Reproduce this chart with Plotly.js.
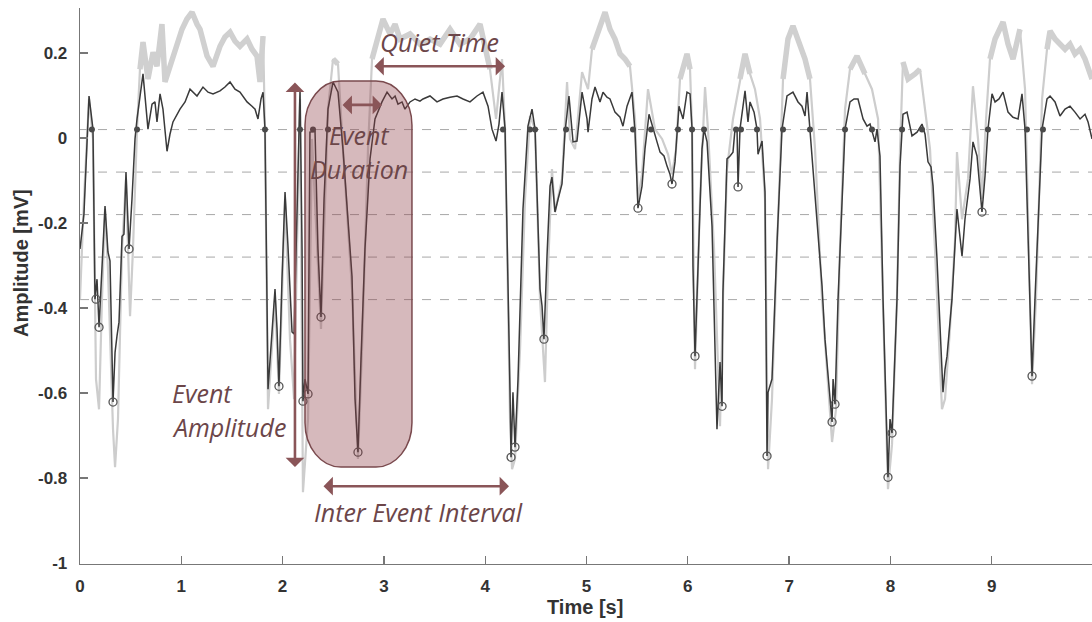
<!DOCTYPE html>
<html>
<head>
<meta charset="utf-8">
<script src="https://cdn.plot.ly/plotly-3.0.1.min.js"></script>
<style>html,body{margin:0;padding:0;background:#fff}#chart{width:1092px;height:622px}</style>
</head>
<body>
<div id="chart"></div>
<script>
// Filtered (dark) signal
const darkTime = [0,0.039,0.089,0.128,0.148,0.168,0.188,0.217,0.247,0.276,0.296,0.326,0.346,0.365,0.385,0.415,0.434,0.454,0.464,0.484,0.513,0.543,0.563,0.592,0.622,0.671,0.711,0.740,0.760,0.790,0.819,0.859,0.888,0.918,0.958,0.987,1.037,1.086,1.155,1.214,1.264,1.313,1.382,1.431,1.481,1.530,1.579,1.629,1.649,1.698,1.728,1.757,1.787,1.807,1.826,1.856,1.895,1.925,1.945,1.964,1.994,2.024,2.053,2.093,2.113,2.132,2.172,2.192,2.201,2.221,2.251,2.270,2.320,2.349,2.379,2.409,2.448,2.498,2.547,2.596,2.646,2.685,2.715,2.744,2.774,2.813,2.863,2.912,2.981,3.031,3.080,3.110,3.139,3.179,3.208,3.258,3.307,3.356,3.386,3.455,3.524,3.583,3.653,3.722,3.781,3.850,3.919,3.978,4.028,4.067,4.107,4.136,4.166,4.196,4.245,4.255,4.274,4.294,4.324,4.373,4.422,4.462,4.492,4.541,4.561,4.580,4.610,4.640,4.659,4.689,4.719,4.758,4.788,4.827,4.867,4.906,4.956,5.005,5.015,5.054,5.084,5.133,5.163,5.202,5.232,5.281,5.331,5.360,5.400,5.449,5.479,5.508,5.548,5.577,5.617,5.656,5.696,5.726,5.765,5.795,5.824,5.844,5.874,5.913,5.953,5.992,6.022,6.042,6.051,6.071,6.101,6.140,6.160,6.190,6.239,6.288,6.318,6.338,6.347,6.387,6.417,6.446,6.466,6.486,6.496,6.515,6.565,6.594,6.614,6.654,6.683,6.693,6.733,6.762,6.782,6.792,6.831,6.881,6.930,6.979,7.038,7.088,7.127,7.157,7.177,7.206,7.275,7.325,7.354,7.404,7.424,7.434,7.453,7.483,7.522,7.552,7.601,7.641,7.680,7.730,7.769,7.799,7.848,7.868,7.897,7.927,7.976,7.996,8.016,8.065,8.095,8.124,8.164,8.194,8.213,8.263,8.312,8.342,8.371,8.401,8.421,8.460,8.490,8.519,8.539,8.559,8.608,8.657,8.707,8.736,8.786,8.815,8.855,8.904,8.934,8.963,9.003,9.033,9.072,9.112,9.161,9.210,9.260,9.299,9.329,9.378,9.398,9.427,9.447,9.497,9.546,9.576,9.625,9.674,9.724,9.773,9.822,9.872,9.921,9.951,9.990];
const darkAmp = [-0.261,-0.179,0.099,0.021,-0.379,-0.332,-0.445,-0.301,-0.160,-0.268,-0.289,-0.621,-0.504,-0.466,-0.433,-0.231,-0.226,-0.080,-0.144,-0.261,-0.144,-0.002,0.045,0.104,0.151,0.021,0.080,0.085,0.038,0.104,0.068,-0.031,0.009,0.038,0.056,0.068,0.085,0.115,0.099,0.120,0.108,0.104,0.111,0.120,0.132,0.115,0.108,0.092,0.085,0.075,0.068,0.045,0.092,0.108,0.021,-0.591,-0.449,-0.355,-0.449,-0.584,-0.332,-0.127,-0.254,-0.456,-0.461,-0.261,0.115,-0.261,-0.619,-0.567,-0.602,0.014,0.016,-0.261,-0.421,-0.144,0.068,0.132,0.108,-0.026,-0.191,-0.325,-0.614,-0.739,-0.520,-0.261,-0.049,0.045,0.085,0.108,0.092,0.099,0.080,0.085,0.068,0.085,0.092,0.087,0.092,0.099,0.085,0.092,0.096,0.099,0.092,0.085,0.099,0.108,0.075,0.021,-0.007,0.033,0.108,0.021,-0.598,-0.751,-0.598,-0.727,-0.567,-0.167,0.028,0.068,0.021,-0.355,-0.395,-0.473,-0.278,-0.113,-0.092,-0.174,-0.144,-0.108,0.014,0.099,-0.009,-0.007,0.108,0.045,0.014,0.092,0.120,0.085,0.108,0.096,0.092,0.061,0.049,0.028,0.075,0.108,0.014,-0.165,-0.113,-0.026,0.056,0.021,-0.009,-0.033,-0.042,-0.066,-0.085,-0.108,-0.056,0.075,0.045,0.108,0.104,0.021,-0.301,-0.513,-0.285,-0.026,0.021,-0.009,-0.207,-0.685,-0.527,-0.631,-0.362,-0.049,-0.042,-0.033,0.021,0.021,-0.115,0.021,0.111,0.038,0.085,0.061,0.021,-0.038,-0.007,-0.127,-0.748,-0.598,-0.567,-0.245,0.021,0.099,0.108,0.085,0.075,0.052,0.108,0.021,-0.195,-0.348,-0.473,-0.614,-0.668,-0.567,-0.626,-0.379,-0.174,0.021,0.085,0.092,0.092,0.045,0.028,0.033,-0.009,0.021,-0.042,-0.379,-0.798,-0.661,-0.694,-0.379,-0.066,0.056,0.061,0.021,0.005,0.014,0.033,0.009,-0.056,-0.068,-0.113,-0.285,-0.456,-0.598,-0.544,-0.513,-0.379,-0.167,-0.278,-0.191,-0.096,-0.009,-0.042,-0.174,-0.089,0.021,0.104,0.085,0.092,0.108,0.061,0.049,0.045,0.104,0.021,-0.379,-0.560,-0.379,-0.261,0.021,0.092,0.099,0.085,0.052,0.068,0.075,0.061,0.045,0.056,0.038,-0.002];

// Raw (grey) signal
const rawTime = [0,0.039,0.089,0.128,0.158,0.188,0.217,0.247,0.276,0.326,0.346,0.375,0.415,0.454,0.494,0.523,0.563,0.592,0.622,0.671,0.721,0.760,0.809,0.839,0.888,0.958,1.007,1.056,1.106,1.155,1.185,1.254,1.313,1.382,1.431,1.481,1.530,1.579,1.649,1.698,1.747,1.777,1.807,1.826,1.856,1.925,1.964,2.024,2.073,2.113,2.172,2.201,2.251,2.290,2.379,2.448,2.498,2.547,2.596,2.685,2.744,2.784,2.843,2.883,2.932,2.991,3.060,3.110,3.159,3.258,3.356,3.455,3.554,3.653,3.751,3.850,3.949,4.047,4.107,4.166,4.196,4.245,4.265,4.294,4.344,4.393,4.442,4.492,4.541,4.590,4.620,4.659,4.689,4.758,4.808,4.837,4.887,4.956,5.015,5.054,5.133,5.183,5.232,5.281,5.331,5.380,5.429,5.479,5.508,5.548,5.607,5.676,5.746,5.805,5.844,5.884,5.923,5.992,6.022,6.042,6.071,6.121,6.170,6.199,6.259,6.318,6.347,6.387,6.446,6.515,6.565,6.614,6.663,6.713,6.762,6.792,6.831,6.881,6.940,6.989,7.038,7.108,7.157,7.206,7.256,7.325,7.424,7.463,7.502,7.552,7.601,7.670,7.749,7.818,7.878,7.927,7.976,8.016,8.065,8.095,8.124,8.174,8.243,8.292,8.342,8.391,8.440,8.509,8.539,8.588,8.638,8.657,8.707,8.766,8.815,8.865,8.904,8.944,8.983,9.033,9.112,9.161,9.210,9.279,9.329,9.378,9.398,9.437,9.497,9.546,9.576,9.625,9.674,9.724,9.773,9.822,9.872,9.921,9.990];
const rawAmp = [-0.379,-0.144,0.092,-0.002,-0.567,-0.638,-0.379,-0.167,-0.308,-0.685,-0.774,-0.661,-0.261,-0.096,-0.419,-0.261,0.021,0.162,0.226,0.139,0.202,0.169,0.268,0.132,0.169,0.226,0.256,0.280,0.296,0.268,0.256,0.193,0.169,0.216,0.238,0.249,0.228,0.216,0.233,0.209,0.193,0.132,0.240,0.021,-0.638,-0.379,-0.602,-0.144,-0.473,-0.614,0.092,-0.833,-0.661,-0.002,-0.449,0.068,0.186,0.174,-0.026,-0.355,-0.755,-0.496,-0.026,0.186,0.233,0.280,0.245,0.268,0.233,0.245,0.221,0.233,0.221,0.256,0.221,0.233,0.268,0.162,0.045,0.186,0.021,-0.661,-0.779,-0.755,-0.496,-0.144,0.052,0.021,-0.379,-0.574,-0.308,-0.073,-0.174,-0.096,0.132,-0.002,-0.026,0.155,0.115,0.209,0.268,0.296,0.256,0.233,0.198,0.186,0.169,0.045,-0.144,-0.085,0.115,0.021,-0.002,-0.038,-0.085,-0.026,0.139,0.198,0.162,0.021,-0.544,-0.144,0.120,0.021,-0.261,-0.678,-0.379,-0.073,0.045,0.139,0.198,0.151,0.115,0.045,-0.144,-0.779,-0.614,-0.261,0.139,0.233,0.264,0.221,0.186,0.139,-0.026,-0.379,-0.715,-0.638,-0.261,0.068,0.162,0.193,0.151,0.115,0.045,-0.379,-0.826,-0.720,-0.379,-0.026,0.179,0.139,0.151,0.162,0.068,-0.026,-0.261,-0.638,-0.614,-0.449,-0.238,-0.033,-0.191,-0.096,0.122,-0.002,-0.144,0.045,0.186,0.233,0.273,0.221,0.186,0.256,0.115,-0.402,-0.579,-0.379,0.092,0.209,0.252,0.233,0.221,0.209,0.221,0.198,0.209,0.186,0.139];

// Detected event peaks (open circles)
const peakTime = [0.158,0.188,0.326,0.484,1.964,2.201,2.251,2.379,2.744,4.255,4.294,4.580,5.508,5.844,6.071,6.338,6.496,6.782,7.424,7.453,7.976,8.016,8.904,9.398];
const peakAmp = [-0.379,-0.445,-0.621,-0.261,-0.584,-0.619,-0.602,-0.421,-0.739,-0.751,-0.727,-0.473,-0.165,-0.108,-0.513,-0.631,-0.115,-0.748,-0.668,-0.626,-0.798,-0.694,-0.174,-0.560];

// Threshold crossings (filled dots)
const crossTime = [0.118,0.563,1.826,2.172,2.300,2.448,4.176,4.442,4.492,4.798,5.459,5.637,5.903,6.042,6.160,6.476,6.525,6.683,6.940,7.206,7.552,7.818,8.115,8.312,8.963,9.348,9.506];
const crossLevel = 0.02;

// Threshold lines
const thresholds = [0.02, -0.08, -0.18, -0.28, -0.38];

// Axis ticks
const xTicks = [0,1,2,3,4,5,6,7,8,9];
const yTicks = [0.2,0,-0.2,-0.4,-0.6,-0.8,-1];
const yTickText = ['0.2','0','-0.2','-0.4','-0.6','-0.8','-1'];

// noisy band of the raw signal is drawn thicker while it sits in the quiet (high) plateaus
const bandFloor = 0.12;

const traces = [
  {x: rawTime, y: rawAmp, type:'scatter', mode:'lines', line:{color:'#cdcdcd', width:2.2}, hoverinfo:'skip'},
  {x: rawTime, y: rawAmp.map(v => v >= bandFloor ? v : null), type:'scatter', mode:'lines', connectgaps:false,
   line:{color:'#d0d0d0', width:5.5}, hoverinfo:'skip'},
  {x: darkTime, y: darkAmp, type:'scatter', mode:'lines', line:{color:'#3a3a3a', width:1.5}, hoverinfo:'skip'},
  {x: crossTime, y: crossTime.map(() => crossLevel), type:'scatter', mode:'markers',
   marker:{symbol:'circle', size:6, color:'#4a4a4a'}, hoverinfo:'skip'},
  {x: peakTime, y: peakAmp, type:'scatter', mode:'markers',
   marker:{symbol:'circle-open', size:8, color:'#555', line:{width:1.3}}, hoverinfo:'skip'}
];

const shapes = thresholds.map(v => ({type:'line', xref:'paper', x0:0, x1:1, yref:'y', y0:v, y1:v,
  line:{color:'#a8a8a8', width:1, dash:'dash'}, layer:'below'}));

// Rounded highlight box
(function(){
  const x0 = 2.221, x1 = 3.277, y0 = -0.774, y1 = 0.134, rx = 0.355, ry = 0.104, k = 0.5523;
  const p = `M ${x0+rx},${y1} L ${x1-rx},${y1} C ${x1-rx+k*rx},${y1} ${x1},${y1-ry+k*ry} ${x1},${y1-ry} ` +
    `L ${x1},${y0+ry} C ${x1},${y0+ry-k*ry} ${x1-rx+k*rx},${y0} ${x1-rx},${y0} ` +
    `L ${x0+rx},${y0} C ${x0+rx-k*rx},${y0} ${x0},${y0+ry-k*ry} ${x0},${y0+ry} ` +
    `L ${x0},${y1-ry} C ${x0},${y1-ry+k*ry} ${x0+rx-k*rx},${y1} ${x0+rx},${y1} Z`;
  shapes.push({type:'path', xref:'x', yref:'y', path:p, fillcolor:'rgba(140,60,68,0.36)',
    line:{color:'#7a4a4e', width:1.5}, layer:'above'});
})();

const arrowColor = '#8a5558';
const textColor = '#6c4649';
function dblArrow(xa, ya, xb, yb){
  return {x:xb, y:yb, ax:xa, ay:ya, xref:'x', yref:'y', axref:'x', ayref:'y', text:'', showarrow:true,
    arrowhead:1, arrowside:'end+start', arrowsize:1.2, arrowwidth:2.6, arrowcolor:arrowColor, standoff:0, startstandoff:0};
}
const italic = {family:'Open Sans, Noto Sans, sans-serif', size:25, color:textColor, style:'italic'};
function label(txt, x, y, xanchor){
  return {x:x, y:y, xref:'x', yref:'y', text:txt, showarrow:false, font:italic, xanchor:xanchor||'center', yanchor:'middle'};
}

const annotations = [
  dblArrow(2.122, 0.134, 2.122, -0.774),
  dblArrow(2.577, 0.078, 2.981, 0.078),
  dblArrow(2.892, 0.169, 4.196, 0.169),
  dblArrow(2.389, -0.819, 4.235, -0.819),
  label('Quiet Time', 3.544, 0.226),
  label('Event', 2.754, 0.007),
  label('Duration', 2.754, -0.073),
  label('Event', 0.888, -0.60, 'left'),
  label('Amplitude', 0.888, -0.68, 'left'),
  label('Inter Event Interval', 3.337, -0.88),
  {xref:'paper', yref:'paper', x:(585-80)/1012, y:(564-607)/556, text:'Time [s]', showarrow:false,
   font:{family:'Liberation Sans, Arial, sans-serif', size:20, color:'#333', weight:'bold'}, xanchor:'center', yanchor:'middle'},
  {xref:'paper', yref:'paper', x:(21-80)/1012, y:(564-263)/556, text:'Amplitude [mV]', showarrow:false, textangle:-90,
   font:{family:'Liberation Sans, Arial, sans-serif', size:20, color:'#333', weight:'bold'}, xanchor:'center', yanchor:'middle'}
];

const tickFont = {family:'Liberation Sans, Arial, sans-serif', size:17, color:'#333', weight:'bold'};
const layout = {
  width:1092, height:622,
  margin:{l:80, r:0, t:8, b:58},
  paper_bgcolor:'#fff', plot_bgcolor:'#fff',
  showlegend:false,
  xaxis:{range:[0, 9.99], showgrid:false, zeroline:false, showline:true, linecolor:'#777', linewidth:1.3,
    ticks:'inside', ticklen:8, tickwidth:1.3, tickcolor:'#777', tickvals:xTicks, ticktext:xTicks.map(String),
    tickfont:tickFont, ticklabelstandoff:6},
  yaxis:{range:[-1.002, 0.306], showgrid:false, zeroline:false, showline:true, linecolor:'#777', linewidth:1.3,
    ticks:'inside', ticklen:8, tickwidth:1.3, tickcolor:'#777', tickvals:yTicks, ticktext:yTickText,
    tickfont:tickFont, ticklabelstandoff:8},
  shapes:shapes,
  annotations:annotations
};

Plotly.newPlot('chart', traces, layout, {staticPlot:true, displayModeBar:false});
</script>
</body>
</html>
